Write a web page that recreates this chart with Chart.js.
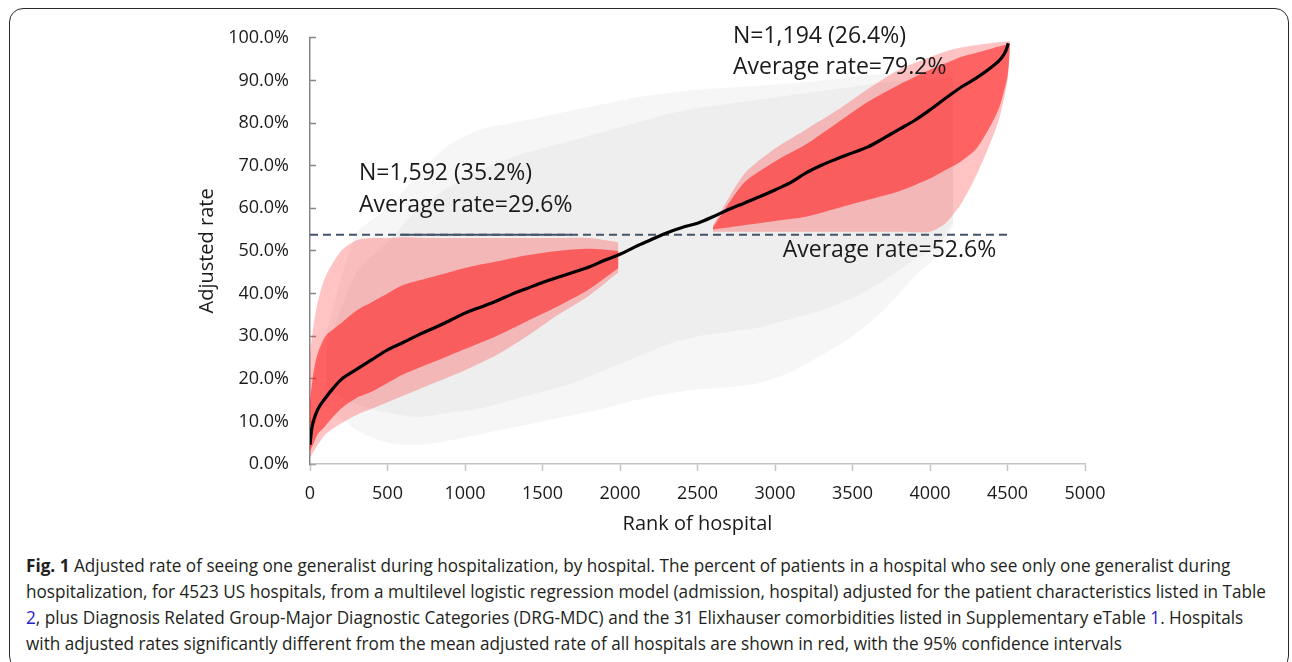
<!DOCTYPE html>
<html>
<head>
<meta charset="utf-8">
<script src="https://cdn.jsdelivr.net/npm/chart.js@4.4.1/dist/chart.umd.min.js"></script>
<style>
  html, body { margin: 0; padding: 0; background: #fff; }
  body { width: 1292px; height: 662px; position: relative; overflow: hidden; }
  #frame { position: absolute; left: 9px; top: 8px; width: 1280px; height: 662px;
           border: 1.5px solid #2a2a2a; border-radius: 14px; box-sizing: border-box; }
  #chart { position: absolute; left: 0; top: 0; }
  .ln { position: absolute; left: 26px; white-space: nowrap; font-family: "Open Sans", sans-serif;
        font-size: 18px; color: #231f20; transform-origin: 0 50%; line-height: 26px; }
  .ln b { font-weight: 700; }
  .ln a { color: #2323c8; text-decoration: none; }
</style>
</head>
<body>
<div id="frame"></div>
<canvas id="chart" width="1292" height="540"></canvas>
<div class="ln" style="top:552px"><b>Fig. 1</b> Adjusted rate of seeing one generalist during hospitalization, by hospital. The percent of patients in a hospital who see only one generalist during</div>
<div class="ln" id="ref" style="top:578px">hospitalization, for 4523 US hospitals, from a multilevel logistic regression model (admission, hospital) adjusted for the patient characteristics listed in Table</div>
<div class="ln" style="top:604px"><a>2</a>, plus Diagnosis Related Group-Major Diagnostic Categories (DRG-MDC) and the 31 Elixhauser comorbidities listed in Supplementary eTable <a>1</a>. Hospitals</div>
<div class="ln" style="top:630px">with adjusted rates significantly different from the mean adjusted rate of all hospitals are shown in red, with the 95% confidence intervals</div>
<script>
// hospital rank vs adjusted rate (%)
const curveRank = [0, 10, 25, 50, 100, 150, 200, 300, 400, 500, 600, 700, 800, 900, 1000, 1100, 1200, 1300, 1400, 1500, 1600, 1700, 1800, 1900, 2000, 2100, 2200, 2300, 2400, 2500, 2600, 2700, 2800, 2900, 3000, 3100, 3200, 3300, 3400, 3500, 3600, 3700, 3800, 3900, 4000, 4100, 4200, 4300, 4400, 4460, 4490, 4505];
const curveRate = [4.5, 8.0, 10.4, 12.8, 15.5, 17.8, 19.8, 22.2, 24.5, 26.8, 28.5, 30.3, 31.9, 33.6, 35.4, 36.8, 38.2, 39.8, 41.2, 42.6, 43.8, 45.0, 46.2, 47.8, 49.2, 51.0, 52.6, 54.2, 55.5, 56.5, 58.0, 59.7, 61.2, 62.7, 64.3, 66.0, 68.3, 70.1, 71.6, 73.0, 74.4, 76.4, 78.5, 80.6, 83.1, 85.8, 88.4, 90.6, 93.2, 95.2, 97.0, 98.7];

// low-rate significant hospitals (red), 95% CI spread
const redLowRank   = [0, 25, 50, 100, 200, 300, 400, 500, 600, 800, 1000, 1200, 1400, 1600, 1800, 1990];
const redLowOutLo  = [1.5, 3, 4.5, 7, 9.5, 11.5, 13, 14.5, 16, 19, 22, 25.5, 30, 35, 39.5, 45];
const redLowOutHi  = [26, 33, 38, 44, 50, 52.5, 53, 53, 53.2, 53, 53, 53, 53, 53, 53, 52];
const redLowCoreLo = [3, 5, 7, 9, 13, 15.5, 17, 19, 21, 24, 27, 30, 33.5, 37, 41, 46];
const redLowCoreHi = [15, 22, 26, 30, 33, 36, 38, 40, 42, 44, 46, 47.5, 49, 50, 50.5, 50];

// high-rate significant hospitals (red)
const redHighRank   = [2600, 2800, 3000, 3200, 3400, 3600, 3800, 4000, 4100, 4200, 4300, 4400, 4450, 4500, 4515];
const redHighOutLo  = [54.5, 54.5, 54.5, 54.5, 54.5, 54.5, 54.5, 54.5, 56.5, 61, 67.8, 76.3, 81.5, 90, 97];
const redHighOutHi  = [56, 68, 74, 78.5, 83, 88, 92.5, 95.5, 96.8, 97.7, 98.3, 98.8, 99, 99.2, 99.2];
const redHighCoreLo = [55, 56, 57, 58, 60, 62, 64, 67, 69, 71, 74, 80, 84, 91, 97];
const redHighCoreHi = [55.5, 66, 71, 75, 80, 85, 89, 92.5, 94, 95.5, 96.5, 97.5, 98, 98.5, 98.7];

// all other hospitals (grey)
const greyRank   = [100, 300, 500, 700, 900, 1100, 1300, 1500, 1700, 1900, 2100, 2300, 2500, 2700, 2900, 3100, 3300, 3500, 3700, 3900, 4050, 4150];
const greyOutLo  = [14, 8, 5, 4.5, 5.5, 7, 8.5, 10, 11.5, 13, 15, 16.5, 17.5, 18, 19, 21.5, 25.5, 30, 36, 44, 49, 56];
const greyOutHi  = [30, 54, 60, 68, 75, 78.5, 80, 81.5, 83, 84.5, 86, 87, 87.8, 88.3, 88.8, 89.3, 90, 90.8, 91.5, 92, 92.5, 92.5];
const greyCoreLo = [18, 14, 12, 11, 12, 13, 15, 17, 19, 22, 25, 28, 30, 31, 32, 34, 36, 39, 43, 48, 51, 57];
const greyCoreHi = [26, 45, 52, 60, 65, 69, 72, 74, 76, 78, 80, 82, 83.5, 84.5, 85.5, 86.5, 87.5, 88.5, 89.5, 90, 90.5, 91];

const meanRank = [0, 4523];
const meanRate = [53.8, 53.8];
const meanSolidRank = [580, 1690];

const xTicksMax = 5000;
const yTicksMax = 100;

const notes = [
  { text: 'N=1,592 (35.2%)', rank: 316, rate: 68.1 },
  { text: 'Average rate=29.6%', rank: 316, rate: 60.6 },
  { text: 'N=1,194 (26.4%)', rank: 2729, rate: 100.3 },
  { text: 'Average rate=79.2%', rank: 2729, rate: 93.0 },
  { text: 'Average rate=52.6%', rank: 3050, rate: 50.0 }
];

function pts(ranks, vals) {
  return ranks.map((r, i) => ({ x: r, y: vals[i] }));
}

function band(ranks, lo, hi, color, order) {
  return [
    { data: pts(ranks, lo), borderColor: 'transparent', pointRadius: 0, fill: false, tension: 0.25, order: order },
    { data: pts(ranks, hi), borderColor: 'transparent', pointRadius: 0, fill: '-1', backgroundColor: color, tension: 0.25, order: order }
  ];
}

const notePlugin = {
  id: 'notes',
  afterDraw(chart) {
    const c = chart.ctx;
    const xs = chart.scales.x, ys = chart.scales.y;
    c.save();
    c.font = '23px "Open Sans", sans-serif';
    c.fillStyle = '#1a1a1a';
    c.textAlign = 'left';
    c.textBaseline = 'middle';
    notes.forEach(n => c.fillText(n.text, xs.getPixelForValue(n.rank), ys.getPixelForValue(n.rate)));
    c.restore();
  }
};

let datasets = [];
datasets = datasets.concat(band(greyRank, greyOutLo, greyOutHi, 'rgba(170,170,170,0.10)', 10));
datasets = datasets.concat(band(greyRank, greyCoreLo, greyCoreHi, 'rgba(170,170,170,0.10)', 9));
datasets = datasets.concat(band(redLowRank, redLowOutLo, redLowOutHi, 'rgba(255,40,40,0.28)', 8));
datasets = datasets.concat(band(redLowRank, redLowCoreLo, redLowCoreHi, 'rgba(255,20,20,0.55)', 7));
datasets = datasets.concat(band(redHighRank, redHighOutLo, redHighOutHi, 'rgba(255,40,40,0.28)', 8));
datasets = datasets.concat(band(redHighRank, redHighCoreLo, redHighCoreHi, 'rgba(255,20,20,0.55)', 7));
datasets.push({
  data: pts(meanRank, meanRate), borderColor: '#44546a', borderWidth: 2, borderDash: [8, 5],
  pointRadius: 0, fill: false, order: 2
});
datasets.push({
  data: pts(meanSolidRank, [meanRate[0], meanRate[0]]), borderColor: '#44546a', borderWidth: 2,
  pointRadius: 0, fill: false, order: 2
});
datasets.push({
  data: pts(curveRank, curveRate), borderColor: '#000', borderWidth: 3.2,
  pointRadius: 0, fill: false, cubicInterpolationMode: 'monotone', order: 1
});

const tickFont = { family: '"Open Sans", sans-serif', size: 18 };
const titleFont = { family: '"Open Sans", sans-serif', size: 20 };

new Chart(document.getElementById('chart').getContext('2d'), {
  type: 'line',
  data: { datasets: datasets },
  options: {
    responsive: false,
    animation: false,
    layout: { padding: { left: 180, right: 207, top: 37, bottom: 0 } },
    plugins: { legend: { display: false }, tooltip: { enabled: false } },
    scales: {
      x: {
        type: 'linear', min: 0, max: xTicksMax,
        ticks: { stepSize: 500, color: '#1a1a1a', font: tickFont, padding: 12, maxRotation: 0, callback: v => String(v) },
        grid: { drawOnChartArea: false, tickLength: 7, color: '#c4c4c4', tickWidth: 1.5 },
        border: { color: '#c4c4c4', width: 1.5 },
        title: { display: true, text: 'Rank of hospital', color: '#1a1a1a', font: titleFont, padding: { top: 0, bottom: 4 } },
        afterFit(s) { s.height = 76; }
      },
      y: {
        min: 0, max: yTicksMax,
        ticks: { stepSize: 10, color: '#1a1a1a', font: tickFont, padding: 27, callback: v => v.toFixed(1) + '%' },
        grid: { drawOnChartArea: false, tickLength: -6, color: '#868686', tickWidth: 1.5 },
        border: { color: '#868686', width: 1.5 },
        title: { display: true, text: 'Adjusted rate', color: '#1a1a1a', font: titleFont, padding: { top: 15, bottom: 0 } },
        afterFit(s) { s.width = 130; }
      }
    }
  },
  plugins: [notePlugin]
});

// condensed caption: squeeze every line by the same factor
const lines = document.querySelectorAll('.ln');
const k = 1240 / document.getElementById('ref').getBoundingClientRect().width;
lines.forEach(l => { l.style.transform = 'scaleX(' + k + ')'; });
</script>
</body>
</html>
